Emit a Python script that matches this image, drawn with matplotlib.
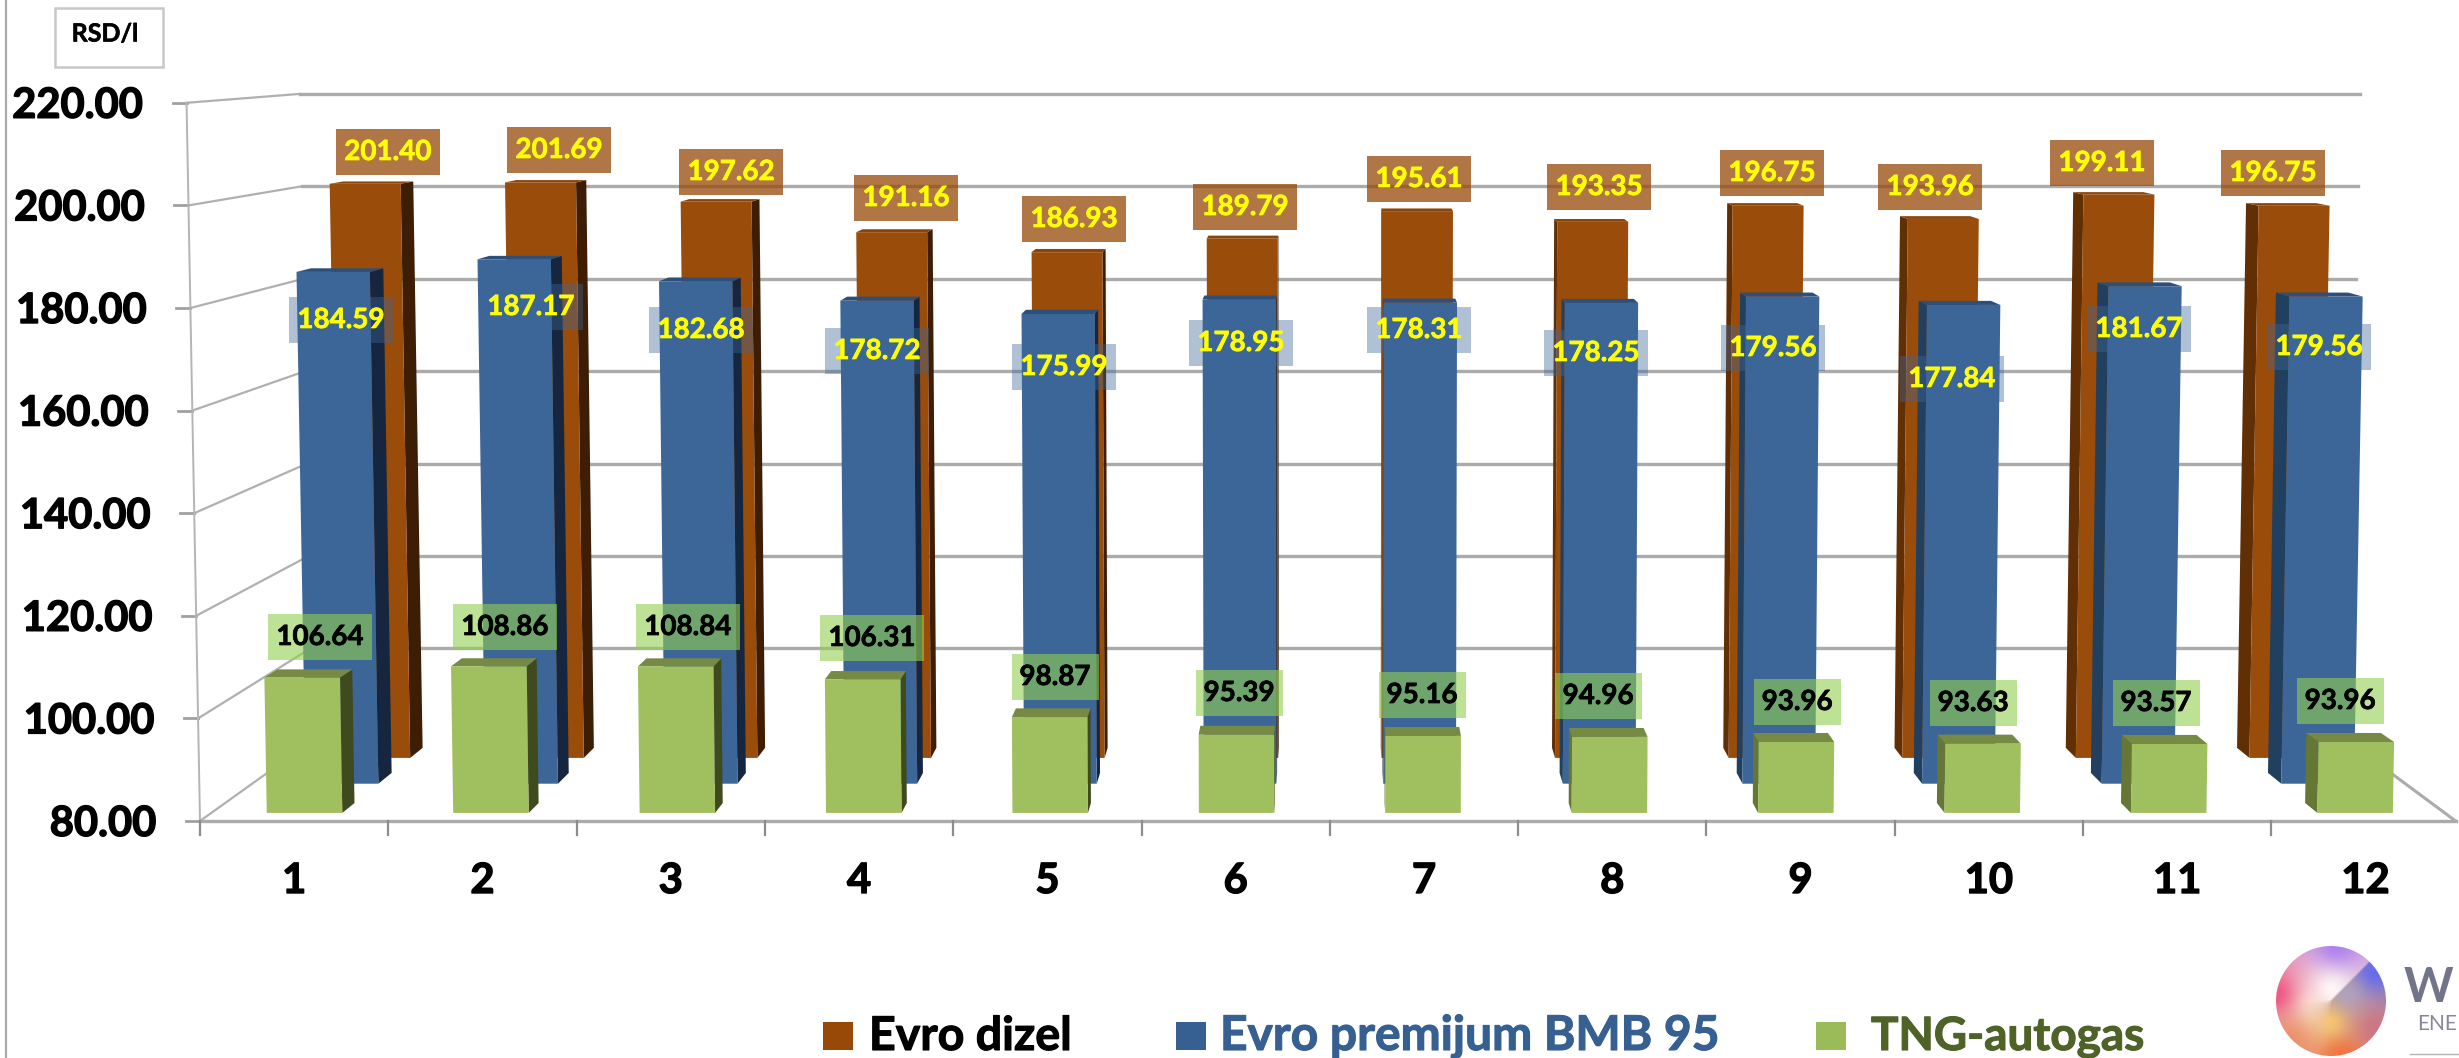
import numpy as np
import matplotlib
matplotlib.use("Agg")
import matplotlib.pyplot as plt
import matplotlib.patheffects as pe
from matplotlib.patches import Polygon, Rectangle, Circle

plt.rcParams['font.family'] = ['Lato', 'DejaVu Sans']

# --- DATA ---
MONTHS = [1, 2, 3, 4, 5, 6, 7, 8, 9, 10, 11, 12]
DIZEL = [201.40, 201.69, 197.62, 191.16, 186.93, 189.79, 195.61, 193.35, 196.75, 193.96, 199.11, 196.75]
PREMIUM = [184.59, 187.17, 182.68, 178.72, 175.99, 178.95, 178.31, 178.25, 179.56, 177.84, 181.67, 179.56]
TNG = [106.64, 108.86, 108.84, 106.31, 98.87, 95.39, 95.16, 94.96, 93.96, 93.63, 93.57, 93.96]
Y_TICKS = [80, 100, 120, 140, 160, 180, 200, 220]
LEGEND_NAMES = ["Evro dizel", "Evro premijum BMB 95", "TNG-autogas"]

# hand placed data labels (pixels), same as the original chart
DIZEL_LABEL_X = [388, 559, 731, 906, 1074, 1245, 1419, 1599, 1772, 1930, 2102, 2273]
DIZEL_LABEL_Y = [152, 150, 172, 198, 219, 207, 179, 187, 173, 187, 163, 173]
PREMIUM_LABEL_X = [341, 531, 701, 877, 1064, 1241, 1419, 1596, 1773, 1952, 2139, 2319]
PREMIUM_LABEL_Y = [320, 307, 330, 351, 367, 343, 330, 353, 348, 379, 329, 347]
TNG_LABEL_X = [320, 505, 688, 872, 1055, 1239, 1422, 1598, 1797, 1973, 2156, 2340]
TNG_LABEL_Y = [637, 627, 627, 638, 677, 693, 695, 696, 702, 703, 703, 701]

# --- 3D LOOK (simple perspective on the floor plus a small lean of the verticals) ---
CENTER_X = 1330
HORIZON_Y = 13
FLOOR_Y = 821
LEFT_X = 200
CAT_W = 188.3
PX_PER_UNIT = 5.13
DEPTH_K = 0.11
LEAN = 0.000085
Y_MIN = 80
BAR_L, BAR_R = 0.2975, 0.7025


def project(u, v, d):
    f = 1 / (1 + DEPTH_K * d)
    y_floor = HORIZON_Y + (FLOOR_Y - HORIZON_Y) * f
    x_floor = CENTER_X + (LEFT_X + u * CAT_W - CENTER_X) * f
    x = CENTER_X + (x_floor - CENTER_X) * (1 + LEAN * (v - Y_MIN))
    y = y_floor - PX_PER_UNIT * f * (v - Y_MIN)
    return x, y


def draw_bar(ax, i, value, d0, d1, front, top, side_dark, side_light, z):
    u0, u1 = i + BAR_L, i + BAR_R
    # side face towards the middle of the chart
    if i <= 5:
        u_side, side = u1, side_dark
    else:
        u_side, side = u0, side_light
    pts = [project(u_side, Y_MIN, d0), project(u_side, value, d0),
           project(u_side, value, d1), project(u_side, Y_MIN, d1)]
    ax.add_patch(Polygon(pts, closed=True, fc=side, ec='none', zorder=z))
    pts = [project(u0, value, d0), project(u1, value, d0),
           project(u1, value, d1), project(u0, value, d1)]
    ax.add_patch(Polygon(pts, closed=True, fc=top, ec='none', zorder=z))
    pts = [project(u0, Y_MIN, d0), project(u1, Y_MIN, d0),
           project(u1, value, d0), project(u0, value, d0)]
    ax.add_patch(Polygon(pts, closed=True, fc=front, ec='none', zorder=z + 0.1))


def bold_text(ax, x, y, txt, size, color, stroke, **kw):
    t = ax.text(x, y, txt, fontsize=size, fontweight='bold', color=color, **kw)
    t.set_path_effects([pe.withStroke(linewidth=stroke, foreground=color)])
    return t


def draw_label(ax, x, y, txt, box_w, box_color, alpha, color):
    ax.add_patch(Rectangle((x - box_w / 2, y - 23), box_w, 46, fc=box_color, ec='none', alpha=alpha, zorder=20))
    bold_text(ax, x, y, txt, 20, color, 0.5, ha='center', va='center', zorder=21)


fig = plt.figure(figsize=(24.59, 10.58), dpi=100)
ax = fig.add_axes([0, 0, 1, 1])
ax.set_xlim(0, 2459)
ax.set_ylim(1058, 0)
ax.axis('off')

# outer frame line and unit box
ax.plot([6, 6], [0, 1058], color='#ABABAB', lw=1.6, zorder=1)
ax.add_patch(Rectangle((55, 8), 108, 59, fc='white', ec='#C8C8C8', lw=1.8, zorder=1))
bold_text(ax, 105, 34, "RSD/l", 18, 'black', 0.4, ha='center', va='center')

# --- WALLS ---
for v in Y_TICKS:
    xf, yf = project(0, v, 0)
    xb, yb = project(0, v, 1)
    xe, ye = project(12, v, 1)
    ax.plot([xf, xb], [yf, yb], color='#B0B0B0', lw=1.6, zorder=2)
    if v > Y_MIN:
        ax.plot([xb, xe], [yb, ye], color='#ABABAB', lw=2.4, zorder=2)
    ax.plot([xf - 14, xf], [yf, yf], color='#A0A0A0', lw=2, zorder=2)
    bold_text(ax, xf - 44, yf + 3, f"{v:.2f}", 30, 'black', 1.0, ha='right', va='center')

x0, y0 = project(0, Y_MIN, 0)
x1, y1 = project(0, 220, 0)
ax.plot([x0, x1], [y0, y1], color='#B5B5B5', lw=1.4, zorder=2)

# floor
xa, ya = project(0, Y_MIN, 0)
xb, yb = project(12, Y_MIN, 0)
xc, yc = project(12, Y_MIN, 1)
ax.plot([xa, xb - 4], [ya, yb], color='#ABABAB', lw=2.4, zorder=2)
ax.plot([xb - 4, xc], [yb, yc], color='#ABABAB', lw=2.2, zorder=2)
for i in range(12):
    xt, yt = project(i, Y_MIN, 0)
    ax.plot([xt, xt], [yt, yt + 14], color='#8C8C8C', lw=1.6, zorder=2)
    xl, yl = project(i + 0.5, Y_MIN, 0)
    bold_text(ax, xl, 881, str(MONTHS[i]), 30, 'black', 1.0, ha='center', va='center')

# --- BARS, back row first ---
for i, m in enumerate(MONTHS):
    draw_bar(ax, i, DIZEL[i], 0.77, 0.905, '#9A4C0A', '#8A450B', '#3D1D03', '#622F05', 5)
for i, m in enumerate(MONTHS):
    draw_bar(ax, i, PREMIUM[i], 0.44, 0.575, '#3D6698', '#2E4F7A', '#16263F', '#21405F', 6)
for i, m in enumerate(MONTHS):
    draw_bar(ax, i, TNG[i], 0.092, 0.207, '#A0BF5E', '#778A43', '#3F4A1E', '#667634', 7)

# --- DATA LABELS ---
for i in range(12):
    draw_label(ax, DIZEL_LABEL_X[i], DIZEL_LABEL_Y[i], f"{DIZEL[i]:.2f}", 104, '#974806', 0.75, '#FFFF00')
    draw_label(ax, PREMIUM_LABEL_X[i], PREMIUM_LABEL_Y[i], f"{PREMIUM[i]:.2f}", 104, '#3D6698', 0.4, '#FFFF00')
    w = 104 if TNG[i] >= 100 else 87
    draw_label(ax, TNG_LABEL_X[i], TNG_LABEL_Y[i], f"{TNG[i]:.2f}", w, '#92D050', 0.6, 'black')

# --- LEGEND ---
legend_swatch_x = [823, 1176, 1816]
legend_text_x = [869, 1220, 1871]
legend_sizes = [33.5, 34.5, 33]
legend_colors = ['#984807', '#376092', '#9BBB59']
legend_text_colors = ['black', '#376092', '#4F6228']
for sx, tx, fs, c, tc, name in zip(legend_swatch_x, legend_text_x, legend_sizes, legend_colors, legend_text_colors, LEGEND_NAMES):
    ax.add_patch(Rectangle((sx, 1022), 30, 28, fc=c, ec='none'))
    bold_text(ax, tx, 1050, name, fs, tc, 0.8, ha='left', va='baseline')

# --- LOGO ---
n = 240
gx, gy = np.meshgrid(np.linspace(-1, 1, n), np.linspace(1, -1, n))
upper = np.array([[-1.0, 0.1, 236, 79, 128], [0.1, 1.0, 170, 125, 240], [0.0, 0.2, 255, 255, 255],
                  [-0.3, -0.2, 255, 235, 215], [-0.7, -0.7, 250, 130, 90]])
lower = np.array([[0.8, 0.5, 95, 105, 240], [0.3, 0.1, 175, 165, 190], [0.0, -0.4, 250, 205, 110],
                  [0.2, -1.0, 248, 110, 55], [0.8, -0.5, 205, 115, 130]])


def blend(anchors):
    w = 1 / (np.hypot(gx[..., None] - anchors[:, 0], gy[..., None] - anchors[:, 1]) ** 2 + 0.02)
    return (w[..., None] * anchors[:, 2:]).sum(axis=2) / w.sum(axis=2, keepdims=True) / 255


# the split between both halves is sharp at the upper right and fades to the lower left
soft = 0.02 + 0.9 * np.clip(-(gx + gy), 0, None)
mix = np.clip((gy - gx + soft) / (2 * soft), 0, 1)[..., None]
rgb = mix * blend(upper) + (1 - mix) * blend(lower)
im = ax.imshow(rgb, extent=(2276, 2386, 1056.5, 945.5), aspect='auto', zorder=3, interpolation='bilinear')
im.set_clip_path(Circle((2331, 1001), 55, transform=ax.transData))
ax.set_xlim(0, 2459)
ax.set_ylim(1058, 0)
ax.text(2404, 1002, "W", ha='left', va='baseline', fontsize=34, fontweight='bold', color='#71748A')
ax.text(2417, 1030, "ENE", ha='left', va='baseline', fontsize=15, color='#85879A')
ax.plot([2410, 2459], [1054, 1054], color='#B5B5B5', lw=1)

fig.savefig('out.png', dpi=100)
